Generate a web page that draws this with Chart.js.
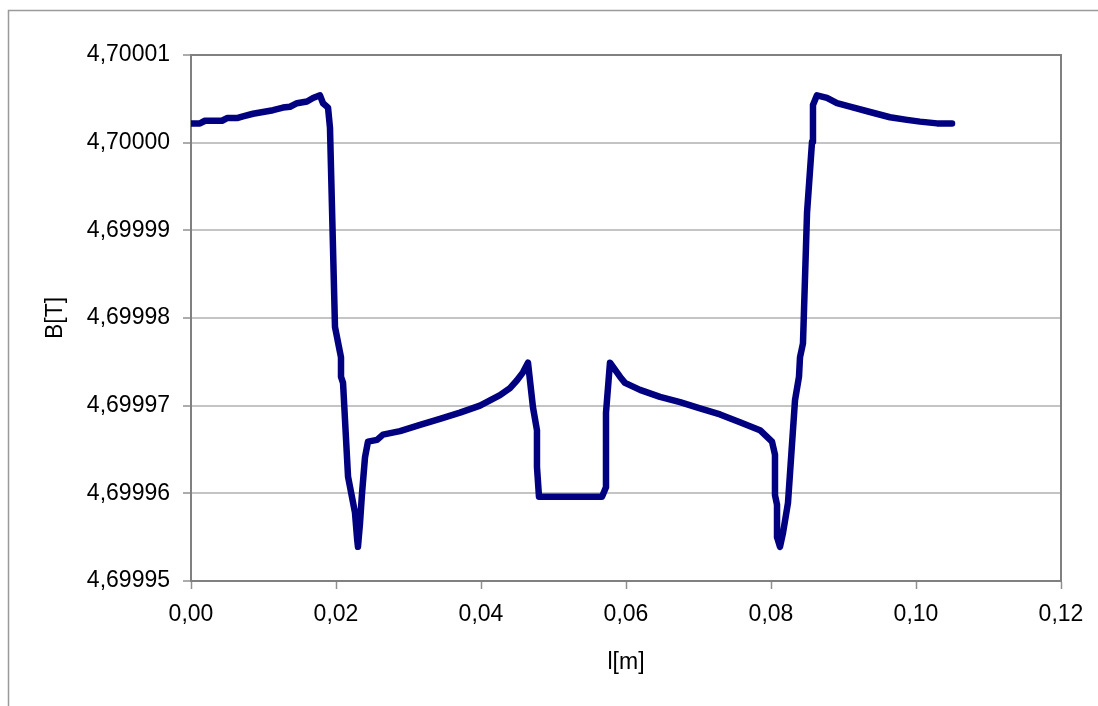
<!DOCTYPE html>
<html>
<head>
<meta charset="utf-8">
<script src="https://cdn.jsdelivr.net/npm/chart.js@4/dist/chart.umd.min.js"></script>
<style>
  html, body { margin: 0; padding: 0; background: #ffffff; }
  #wrap { width: 1098px; height: 706px; position: relative; }
</style>
</head>
<body>
<div id="wrap"><canvas id="c" width="1098" height="706"></canvas></div>
<script>
// Position along the magnet l [m]
const xValues = [0, 0.00124, 0.00193, 0.00428, 0.00497, 0.00634, 0.00717, 0.00855, 0.00993, 0.01131,
  0.01269, 0.01366, 0.01462, 0.01600, 0.01683, 0.01779, 0.01821, 0.01890, 0.01917, 0.01986,
  0.02069, 0.02069, 0.02097, 0.02166, 0.02262, 0.02290, 0.02303, 0.02331, 0.02359, 0.02400,
  0.02441, 0.02566, 0.02648, 0.02883, 0.03159, 0.03434, 0.03710, 0.03986, 0.04262, 0.04400,
  0.04497, 0.04579, 0.04648, 0.04717, 0.04772, 0.04772, 0.04800, 0.05669, 0.05724, 0.05724,
  0.05779, 0.05848, 0.05917, 0.05986, 0.06193, 0.06469, 0.06745, 0.07021, 0.07297, 0.07572,
  0.07848, 0.08014, 0.08055, 0.08055, 0.08083, 0.08083, 0.08124, 0.08166, 0.08234, 0.08331,
  0.08386, 0.08400, 0.08441, 0.08497, 0.08566, 0.08579, 0.08634, 0.08772, 0.08910, 0.09090,
  0.09366, 0.09641, 0.09876, 0.10055, 0.10290, 0.10497];

// Magnetic field B [T]
const bValues = [4.7000022, 4.7000022, 4.7000025, 4.7000025, 4.7000028, 4.7000028, 4.7000030, 4.7000033, 4.7000035, 4.7000037,
  4.7000040, 4.7000041, 4.7000045, 4.7000047, 4.7000051, 4.7000054, 4.7000045, 4.7000040, 4.7000017, 4.6999790,
  4.6999755, 4.6999733, 4.6999726, 4.6999619, 4.6999578, 4.6999549, 4.6999539, 4.6999566, 4.6999600, 4.6999641,
  4.6999659, 4.6999661, 4.6999667, 4.6999671, 4.6999678, 4.6999685, 4.6999692, 4.6999700, 4.6999712, 4.6999720,
  4.6999729, 4.6999738, 4.6999749, 4.6999698, 4.6999672, 4.6999630, 4.6999596, 4.6999596, 4.6999607, 4.6999692,
  4.6999749, 4.6999741, 4.6999733, 4.6999726, 4.6999718, 4.6999710, 4.6999704, 4.6999697, 4.6999690, 4.6999681,
  4.6999672, 4.6999659, 4.6999644, 4.6999598, 4.6999587, 4.6999550, 4.6999539, 4.6999555, 4.6999589, 4.6999706,
  4.6999733, 4.6999755, 4.6999771, 4.6999920, 4.7000001, 4.7000043, 4.7000054, 4.7000051, 4.7000045, 4.7000041,
  4.7000035, 4.7000029, 4.7000026, 4.7000024, 4.7000022, 4.7000022];

const xTickValues = [0, 0.02, 0.04, 0.06, 0.08, 0.10, 0.12];
const yTickValues = [4.69995, 4.69996, 4.69997, 4.69998, 4.69999, 4.70000, 4.70001];

const xTitle = 'l[m]';
const yTitle = 'B[T]';

const FONT = '"Liberation Sans", Arial, sans-serif';

const framePlugin = {
  id: 'frame',
  beforeDraw(chart) {
    const ctx = chart.ctx;
    ctx.save();
    ctx.fillStyle = '#ffffff';
    ctx.fillRect(0, 0, chart.width, chart.height);
    ctx.strokeStyle = '#9a9a9a';
    ctx.lineWidth = 1.5;
    ctx.beginPath();
    ctx.moveTo(8.5, chart.height + 5);
    ctx.lineTo(8.5, 10.5);
    ctx.lineTo(chart.width + 5, 10.5);
    ctx.stroke();
    ctx.restore();
  },
  afterDraw(chart) {
    const a = chart.chartArea;
    const ctx = chart.ctx;
    ctx.save();
    ctx.strokeStyle = '#808080';
    ctx.lineWidth = 2;
    ctx.beginPath();
    ctx.moveTo(a.left, a.top);
    ctx.lineTo(a.right, a.top);
    ctx.lineTo(a.right, a.bottom);
    ctx.stroke();
    ctx.restore();
  }
};

new Chart(document.getElementById('c'), {
  type: 'line',
  data: {
    datasets: [{
      data: xValues.map((x, i) => ({ x: x, y: bValues[i] })),
      borderColor: '#000080',
      borderWidth: 6.5,
      borderJoinStyle: 'round',
      borderCapStyle: 'round',
      pointRadius: 0,
      tension: 0,
      fill: false
    }]
  },
  plugins: [framePlugin],
  options: {
    responsive: false,
    animation: false,
    events: [],
    layout: { padding: { left: 0, top: 55, right: 37, bottom: 0 } },
    plugins: { legend: { display: false }, tooltip: { enabled: false } },
    scales: {
      x: {
        type: 'linear',
        min: 0, max: 0.12,
        afterBuildTicks: s => { s.ticks = xTickValues.map(v => ({ value: v })); },
        afterFit: s => { s.height = 125; },
        grid: { drawOnChartArea: false, drawTicks: true, tickLength: 8, tickColor: '#909090', tickWidth: 1.5 },
        border: { color: '#808080', width: 2 },
        ticks: {
          color: '#000000', padding: 12, maxRotation: 0, autoSkip: false,
          font: { family: FONT, size: 23 },
          callback: v => v.toFixed(2).replace('.', ',')
        },
        title: {
          display: true, text: xTitle, color: '#000000',
          font: { family: FONT, size: 23 },
          padding: { top: 0, bottom: 30 }
        }
      },
      y: {
        type: 'linear',
        min: 4.69995, max: 4.70001,
        afterBuildTicks: s => { s.ticks = yTickValues.map(v => ({ value: v })); },
        afterFit: s => { s.width = 191; },
        grid: { color: '#c4c4c4', lineWidth: 2, drawTicks: true, tickLength: 8, tickColor: '#909090', tickWidth: 1.5 },
        border: { color: '#808080', width: 2 },
        ticks: {
          color: '#000000', padding: 13, autoSkip: false,
          font: { family: FONT, size: 23 },
          callback: v => v.toFixed(5).replace('.', ',')
        },
        title: {
          display: true, text: yTitle, color: '#000000',
          font: { family: FONT, size: 23 },
          padding: { top: 42, bottom: 42 }
        }
      }
    }
  }
});
</script>
</body>
</html>
